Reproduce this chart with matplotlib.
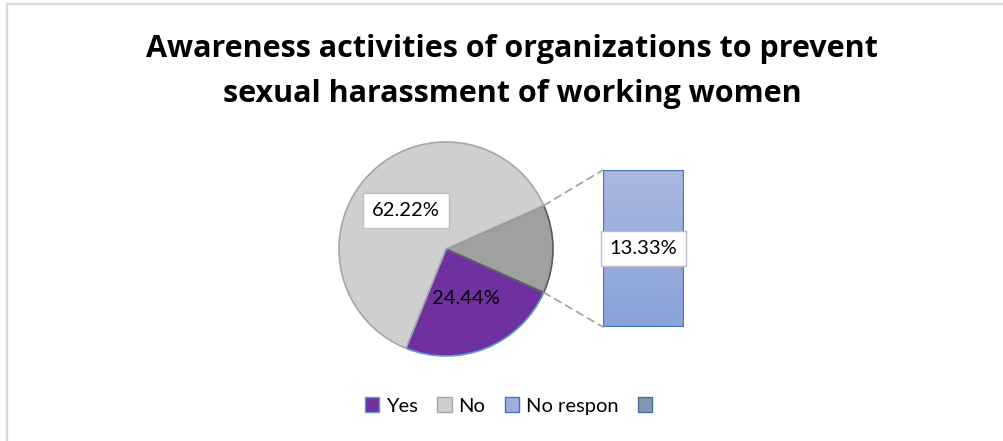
import numpy as np
import matplotlib
matplotlib.use("Agg")
from matplotlib import pyplot as plt
from matplotlib.patches import Rectangle, Patch, ConnectionPatch

plt.rcParams['font.family'] = ['Lato', 'DejaVu Sans']

title_lines = ["Awareness activities of organizations to prevent",
               "sexual harassment of working women"]
legend_labels = ["Yes", "No", "No respon", ""]
yes_share = 24.44
no_share = 62.22
other_share = 13.33      # "No respon", split out into the bar

W, H = 1004, 441
fig = plt.figure(figsize=(W / 100, H / 100), dpi=100)


def px_rect(x0, y0, x1, y1):
    # pixel box (top-left origin) -> figure fraction rect
    return [x0 / W, 1 - y1 / H, (x1 - x0) / W, (y1 - y0) / H]


# outer chart border
fig.patches.append(Rectangle((7 / W, -0.1), 1.2, 1 - 4 / H + 0.1,
                             transform=fig.transFigure, fill=False,
                             edgecolor="#D9D9D9", lw=1.6))

# title
for line, base in zip(title_lines, [57, 102]):
    fig.text(512 / W, 1 - base / H, line, ha="center", va="baseline",
             fontsize=22, fontweight="bold", color="#000000",
             family=["Open Sans", "DejaVu Sans"])

# pie: Yes, aggregated other, No (counter-clockwise)
cx, cy, r = 446, 249, 107
ax = fig.add_axes(px_rect(cx - r, cy - r, cx + r, cy + r))
vals = [yes_share, other_share, no_share]
start = -other_share / 2 * 3.6 - yes_share * 3.6
wedges, _ = ax.pie(vals, startangle=start, radius=1, counterclock=True,
                   colors=["#7030A0", "#A0A0A0", "#CFCFCF"],
                   wedgeprops=dict(linewidth=1.2))
wedges[0].set_edgecolor("#5B9BD5")
wedges[1].set_edgecolor("#595959")
wedges[2].set_edgecolor("#A6A6A6")
ax.set_xlim(-1, 1)
ax.set_ylim(-1, 1)
ax.set_aspect("auto")
ax.axis("off")


def mid_xy(w, dist):
    a = np.deg2rad((w.theta1 + w.theta2) / 2)
    return dist * np.cos(a), dist * np.sin(a)


x, y = mid_xy(wedges[2], 0.52)
ax.text(x, y, f"{no_share:.2f}%", ha="center", va="center", fontsize=14.5,
        bbox=dict(boxstyle="square,pad=0.45", fc="white", ec="#BFBFBF", lw=1))
x, y = mid_xy(wedges[0], 0.5)
ax.text(x, y, f"{yes_share:.2f}%", ha="center", va="center", fontsize=14.5,
        color="#000000")

# bar of the split-out slice, light blue fading darker downwards
bx = fig.add_axes(px_rect(603, 170, 684, 327))
bar = bx.bar(0.5, other_share, width=1, bottom=0, color="none",
             edgecolor="#4472C4", linewidth=1.6, zorder=3)[0]
grad = np.linspace(0, 1, 256).reshape(-1, 1)
top_c = np.array([0xAA, 0xB8, 0xE0]) / 255
bot_c = np.array([0x8A, 0xA2, 0xD9]) / 255
img = top_c * (1 - grad[..., None]) + bot_c * grad[..., None]
im = bx.imshow(img, extent=(0, 1, 0, other_share), origin="upper",
               aspect="auto", zorder=2)
im.set_clip_path(bar)
bx.set_xlim(0, 1)
bx.set_ylim(0, other_share)
bx.axis("off")
bx.text(0.5, other_share / 2, f"{other_share:.2f}%", ha="center",
        va="center", fontsize=14.5, zorder=5,
        bbox=dict(boxstyle="square,pad=0.45", fc="white", ec="#BFBFBF", lw=1))

# dashed connectors from the grey slice to the bar corners
for ang, by in [(wedges[1].theta2, other_share), (wedges[1].theta1, 0)]:
    a = np.deg2rad(ang)
    con = ConnectionPatch(xyA=(np.cos(a), np.sin(a)), coordsA="data", axesA=ax,
                          xyB=(0, by), coordsB="data", axesB=bx,
                          color="#A6A6A6", lw=1.3, linestyle=(0, (4, 3)))
    fig.add_artist(con)

# legend
handles = [Patch(fc="#7030A0", ec="#5B9BD5"),
           Patch(fc="#CFCFCF", ec="#A6A6A6"),
           Patch(fc="#9DAFDE", ec="#4472C4"),
           Patch(fc="#8497B0", ec="#41719C")]
fig.legend(handles, legend_labels, loc="center", ncol=4,
           bbox_to_anchor=(512 / W, 1 - 406 / H), frameon=False, fontsize=14.5,
           handlelength=0.7, handleheight=0.7, handletextpad=0.35,
           columnspacing=0.95)

fig.savefig("out.png", dpi=100)
